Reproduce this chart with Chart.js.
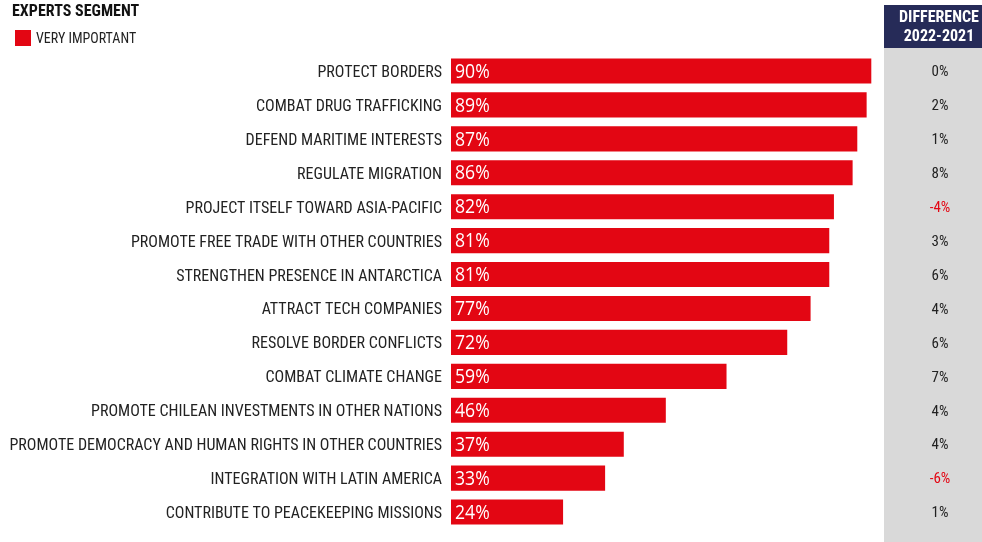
<!DOCTYPE html>
<html>
<head>
<meta charset="utf-8">
<script src="https://cdn.jsdelivr.net/npm/chart.js@4/dist/chart.umd.min.js"></script>
<style>
  html, body { margin: 0; padding: 0; background: #ffffff; }
  #wrap { width: 982px; height: 542px; position: relative; }
</style>
</head>
<body>
<div id="wrap"><canvas id="chart" width="982" height="542"></canvas></div>
<script>
const categories = [
  'PROTECT BORDERS',
  'COMBAT DRUG TRAFFICKING',
  'DEFEND MARITIME INTERESTS',
  'REGULATE MIGRATION',
  'PROJECT ITSELF TOWARD ASIA-PACIFIC',
  'PROMOTE FREE TRADE WITH OTHER COUNTRIES',
  'STRENGTHEN PRESENCE IN ANTARCTICA',
  'ATTRACT TECH COMPANIES',
  'RESOLVE BORDER CONFLICTS',
  'COMBAT CLIMATE CHANGE',
  'PROMOTE CHILEAN INVESTMENTS IN OTHER NATIONS',
  'PROMOTE DEMOCRACY AND HUMAN RIGHTS IN OTHER COUNTRIES',
  'INTEGRATION WITH LATIN AMERICA',
  'CONTRIBUTE TO PEACEKEEPING MISSIONS'
];
const veryImportant = [90, 89, 87, 86, 82, 81, 81, 77, 72, 59, 46, 37, 33, 24];
const difference = [0, 2, 1, 8, -4, 3, 6, 4, 6, 7, 4, 4, -6, 1];

const chartTitle = 'EXPERTS SEGMENT';
const seriesName = 'VERY IMPORTANT';
const diffHeader = ['DIFFERENCE', '2022-2021'];

const RED = '#e30613';
const NAVY = '#262b58';
const GREY = '#d9d9d9';
const NARROW = '"Liberation Sans Narrow", "Arial Narrow", "Roboto Condensed", "Liberation Sans", sans-serif';

// Grey column with the navy header for the year-over-year differences
const diffColumn = {
  id: 'diffColumn',
  beforeDraw(chart) {
    const ctx = chart.ctx;
    ctx.save();
    ctx.fillStyle = GREY;
    ctx.fillRect(884, 48, 98, 494);
    ctx.fillStyle = NAVY;
    ctx.fillRect(884, 5, 98, 43);
    ctx.fillStyle = '#ffffff';
    ctx.font = 'bold 16px ' + NARROW;
    ctx.textAlign = 'center';
    ctx.textBaseline = 'middle';
    ctx.fillText(diffHeader[0], 939, 18);
    ctx.fillText(diffHeader[1], 939, 37);
    ctx.restore();
  },
  afterDraw(chart) {
    const ctx = chart.ctx;
    const y = chart.scales.y;
    ctx.save();
    ctx.font = '15px ' + NARROW;
    ctx.textAlign = 'center';
    ctx.textBaseline = 'middle';
    difference.forEach((d, i) => {
      ctx.fillStyle = d < 0 ? RED : '#222222';
      ctx.fillText(d + '%', 940, y.getPixelForValue(i) + 1.5);
    });
    ctx.restore();
  }
};

// Title and legend in the top-left corner
const header = {
  id: 'header',
  afterDraw(chart) {
    const ctx = chart.ctx;
    ctx.save();
    ctx.fillStyle = '#111111';
    ctx.font = 'bold 16px ' + NARROW;
    ctx.textBaseline = 'middle';
    ctx.textAlign = 'left';
    ctx.fillText(chartTitle, 12, 12);
    ctx.fillStyle = RED;
    ctx.fillRect(15, 30, 16, 16);
    ctx.fillStyle = '#222222';
    ctx.font = '14px ' + NARROW;
    ctx.fillText(seriesName, 36, 39);
    ctx.restore();
  }
};

// Percent labels inside the start of each bar (slightly condensed)
const barLabels = {
  id: 'barLabels',
  afterDatasetsDraw(chart) {
    const ctx = chart.ctx;
    const meta = chart.getDatasetMeta(0);
    ctx.save();
    ctx.fillStyle = '#ffffff';
    ctx.font = '20px "Open Sans", "Noto Sans", sans-serif';
    ctx.textAlign = 'left';
    ctx.textBaseline = 'middle';
    meta.data.forEach((bar, i) => {
      ctx.save();
      ctx.translate(bar.base + 4, bar.y + 1);
      ctx.scale(0.88, 1);
      ctx.fillText(veryImportant[i] + '%', 0, 0);
      ctx.restore();
    });
    ctx.restore();
  }
};

new Chart(document.getElementById('chart'), {
  type: 'bar',
  data: {
    labels: categories,
    datasets: [{
      label: seriesName,
      data: veryImportant,
      backgroundColor: RED,
      borderWidth: 0,
      barPercentage: 0.74,
      categoryPercentage: 1.0
    }]
  },
  options: {
    indexAxis: 'y',
    responsive: false,
    animation: false,
    layout: { padding: { top: 54, bottom: 13, left: 0, right: 64 } },
    plugins: {
      legend: { display: false },
      tooltip: { enabled: false },
      title: { display: false }
    },
    scales: {
      x: {
        display: false,
        min: 0,
        max: 100
      },
      y: {
        afterFit(scale) {
          scale.width = 451;
          scale.paddingTop = 0;
          scale.paddingBottom = 0;
        },
        grid: { display: false, drawTicks: false },
        border: { display: false },
        ticks: {
          color: '#222222',
          padding: 9,
          labelOffset: 2,
          font: { family: NARROW, size: 16 }
        }
      }
    }
  },
  plugins: [diffColumn, header, barLabels]
});
</script>
</body>
</html>
